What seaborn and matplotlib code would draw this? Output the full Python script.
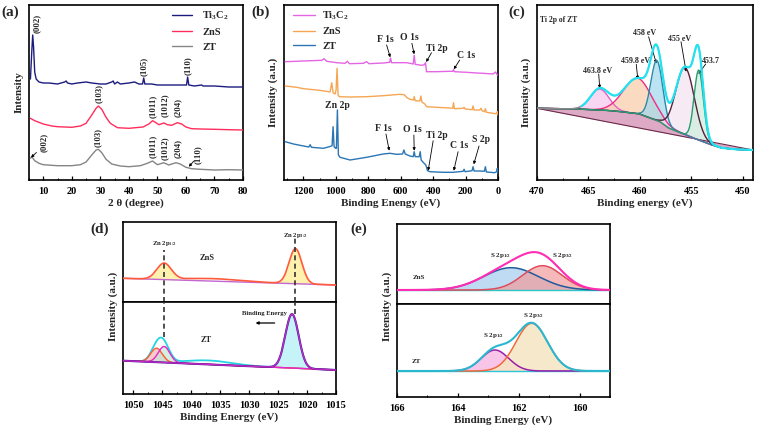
import numpy as np
import matplotlib
matplotlib.use("Agg")
import matplotlib.pyplot as plt
import seaborn as sns

# ---------------- data ----------------
# (a) XRD patterns: 2theta (degree) and stacked intensity (a.u.)
a_ti_x = [5.5, 6.0, 6.3, 6.6, 7.0, 7.5, 8.5, 10, 12, 15, 17.5, 18, 18.5, 20, 22, 25, 27, 30, 32, 34,
          34.5, 35, 36, 37, 40, 42, 43.5, 44.8, 45.2, 45.6, 48, 50, 55, 58, 60.2, 60.6, 61.0, 63, 65.5, 66,
          70, 75, 80]
a_ti_y = [101, 130, 145, 133, 108, 101, 98, 97, 97, 96, 98, 99, 97, 96, 97, 98, 97, 96, 96, 98,
          99, 96, 98, 96, 97, 98, 96, 96, 102, 96, 96, 95, 95, 95, 95, 103, 95, 94, 95, 94,
          94, 93, 93]
a_zns_x = [5.5, 7, 10, 13, 15, 20, 23, 25, 27, 28.5, 29.3, 30.5, 32, 33.5, 36, 40, 45, 47, 48.3, 49.5,
           50.5, 52.3, 53.5, 55, 57, 58.5, 60, 62, 65, 70, 75, 80]
a_zns_y = [61.7, 59.3, 56, 54, 53.3, 52.7, 54, 56.7, 65, 71.7, 74, 70.7, 62.7, 56.7, 52.3, 51.7, 53, 56, 59.3, 57.3,
           55.3, 57, 55.3, 54.7, 57.3, 56, 53, 51.3, 51, 50.7, 50.3, 50]
a_zt_x = [5.5, 6.0, 7, 8.5, 10, 15, 20, 23, 25, 27, 28.5, 29.3, 30.5, 32, 34, 37, 40, 44, 46.5, 48.3,
          50, 52.2, 54, 56.5, 58, 60, 62, 65, 70, 75, 80]
a_zt_y = [21.7, 23.3, 19.3, 16.7, 15.3, 14.3, 14.3, 15.3, 18, 25, 30, 30.7, 27.3, 20.7, 16, 14, 13.3, 14.3, 16.7, 19,
          15.3, 17.3, 15, 17.3, 16, 12.7, 11.3, 10.7, 10, 10.3, 10]
a_names = ["Ti$_3$C$_2$", "ZnS", "ZT"]

# (b) XPS survey: binding energy (eV) and stacked intensity (a.u.)
b_ti_x = [1312.6, 1199.8, 1087.0, 1072.7, 1056.3, 994.7, 943.5, 929.1, 916.8, 830.7, 810.1, 795.8, 707.6,
          668.6, 662.5, 656.3, 564.0, 543.5, 523.0, 516.9, 510.7, 471.7, 453.3, 447.1, 441.0, 379.4, 297.4,
          278.9, 274.8, 268.7, 194.8, 133.3, 92.3, 30.8, 14.4, 6.2, 0]
b_ti_y = [118.3, 119.0, 119.7, 121.3, 118.7, 117.3, 116.7, 118.7, 116.3, 116.7, 118.3, 116.3, 117.0,
          117.7, 122.0, 117.3, 117.3, 116.7, 116.0, 124.7, 115.7, 114.7, 115.3, 117.3, 108.3, 108.3, 108.7,
          108.7, 110.3, 108.3, 107.7, 107.0, 106.7, 106.0, 108.0, 105.3, 105.0]
b_zns_x = [1312.6, 1240.9, 1199.8, 1117.8, 1056.3, 1035.8, 1025.5, 1017.3, 1005.0, 998.8, 992.7, 986.5,
           978.3, 912.7, 810.1, 707.6, 605.0, 580.4, 574.3, 564.0, 543.5, 520.9, 516.9, 510.7, 482.0, 475.8,
           469.7, 451.2, 441.0, 379.4, 297.4, 278.9, 274.8, 268.7, 215.4, 209.2, 203.0, 160.0, 153.8, 147.7,
           112.8, 104.6, 98.4, 84.1, 77.9, 71.8, 30.8, 10.3, 4.1, 0]
b_zns_y = [94.0, 92.7, 91.3, 90.0, 88.7, 88.0, 97.3, 87.3, 86.0, 90.0, 111.7, 85.0,
           83.3, 83.0, 83.3, 84.3, 85.7, 85.3, 84.7, 82.7, 80.7, 80.0, 83.3, 79.3, 79.0, 84.0,
           78.0, 76.0, 73.3, 72.7, 72.0, 71.7, 77.3, 71.3, 71.7, 72.7, 71.0, 70.3, 74.0, 70.0,
           70.0, 71.7, 69.3, 68.3, 71.3, 67.7, 66.7, 66.3, 68.3, 65.0]
b_zt_x = [1312.6, 1261.4, 1199.8, 1167.0, 1158.8, 1150.6, 1076.8, 1039.9, 1023.4, 1017.3, 1011.1, 1000.9,
          996.8, 990.6, 984.5, 974.2, 912.7, 810.1, 707.6, 666.6, 625.6, 588.6, 580.4, 572.2, 543.5, 523.0,
          516.9, 510.7, 486.1, 479.9, 473.8, 461.5, 445.1, 434.8, 420.5, 338.4, 276.9, 215.4, 209.2, 203.0,
          160.0, 153.8, 147.7, 112.8, 84.1, 77.9, 71.8, 20.5, 8.2, 4.1, 0]
b_zt_y = [38.3, 36.0, 34.0, 33.0, 35.3, 32.7, 31.7, 33.3, 34.3, 53.3, 33.3, 31.7,
          31.7, 70.0, 25.0, 22.7, 20.0, 22.7, 26.0, 26.7, 25.7, 26.0, 30.0, 26.0, 24.0, 23.3,
          28.3, 23.3, 23.3, 28.3, 20.0, 17.7, 15.0, 9.3, 8.3, 7.7, 7.7, 8.7, 10.7, 8.3,
          9.3, 13.3, 9.0, 9.0, 8.7, 13.3, 8.0, 7.3, 8.3, 11.7, 6.7]

# (c) Ti 2p of ZT: fitted peaks (center eV, height, sigma) and backgrounds
c_centers = [463.9, 460.2, 458.35, 455.6, 454.27]
c_heights = [21, 35.4, 60, 67, 70]
c_sigmas = [0.9, 1.4, 0.58, 0.9, 0.45]
c_line_x = [449, 470]
c_line_y = [30, 71.7]
c_shirley_x = [449, 450.5, 452, 453, 454.3, 455.5, 456.5, 457.2, 458, 460, 461.5, 463, 466, 470]
c_shirley_y = [30, 30.5, 32, 35, 40, 45, 49, 52, 58, 66, 68, 69.5, 71, 71.7]
c_labels = ["463.8 eV", "459.8 eV", "458 eV", "455 eV", "453.7"]

# (d) Zn 2p: ZnS (top) and ZT (bottom) fitted peaks
d_zns_centers = [1044.7, 1022.0, 1036.0]
d_zns_heights = [16, 35, 2.5]
d_zns_sigmas = [1.25, 1.1, 5.0]
d_zns_base = [17.0, 23.7]          # at 1015 and 1051.8 eV
d_zt_centers = [1046.0, 1044.7, 1022.6, 1037.0]
d_zt_heights = [14, 16, 54, 4]
d_zt_sigmas = [1.0, 1.0, 1.15, 4.0]
d_zt_base = [24.0, 33.3]

# (e) S 2p: ZnS (top) and ZT (bottom) fitted peaks
e_zns_centers = [162.25, 161.22]
e_zns_heights = [22.3, 24.3]
e_zns_sigmas = [0.9, 0.65]
e_zns_base = 14.0
e_zt_centers = [162.78, 161.57]
e_zt_heights = [21, 47.7]
e_zt_sigmas = [0.45, 0.52]
e_zt_base = 26.0

# ---------------- style ----------------
sns.set_theme(style="ticks")
plt.rcParams.update({
    "font.family": ["Liberation Serif", "DejaVu Serif"],
    "font.weight": "bold",
    "axes.labelweight": "bold",
    "mathtext.fontset": "custom",
    "mathtext.rm": "Liberation Serif:bold",
    "mathtext.it": "Liberation Serif:bold:italic",
    "mathtext.bf": "Liberation Serif:bold",
    "mathtext.default": "rm",
    "xtick.direction": "in",
    "ytick.direction": "in",
    "axes.linewidth": 1.2,
    "axes.edgecolor": "black",
    "xtick.color": "black",
    "xtick.labelsize": 7.5,
    "axes.labelsize": 8,
})

W, H = 760, 428
fig = plt.figure(figsize=(W / 100, H / 100), dpi=100)


def rect(l, t, r, b):
    return [l / W, 1 - b / H, (r - l) / W, (b - t) / H]


def peak(x, c, h, s):
    return h * np.exp(-0.5 * ((x - c) / s) ** 2)


def line(ax, x, y, color, lw=1.0, z=3, **kw):
    sns.lineplot(x=np.asarray(x, float), y=np.asarray(y, float), ax=ax, color=color,
                 linewidth=lw, estimator=None, sort=False, legend=False, zorder=z, **kw)
    return ax.lines[-1]


def style_ax(ax, xlim, ylim, major, minor, labels=True):
    ax.set_xlim(*xlim)
    ax.set_ylim(*ylim)
    ax.set_yticks([])
    ax.set_xticks(major)
    ax.set_xticks(minor, minor=True)
    ax.tick_params(axis="x", which="major", length=3, width=0.9, pad=5)
    ax.tick_params(axis="x", which="minor", length=1.8, width=0.7)
    if not labels:
        ax.tick_params(axis="x", which="both", bottom=False, labelbottom=False)
    ax.set_xlabel("")
    ax.set_ylabel("")
    for s in ax.spines.values():
        s.set_visible(True)
        s.set_linewidth(1.2)


def arrow(ax, tip, start, lw=0.6):
    ax.annotate("", xy=tip, xytext=start,
                arrowprops=dict(arrowstyle="-|>", lw=lw, color="black", mutation_scale=4,
                                shrinkA=0, shrinkB=0))


# ---------------- (a) ----------------
axA = fig.add_axes(rect(29, 5, 243, 180))
h1 = line(axA, a_ti_x, a_ti_y, "#1c1c7e", 1.0)
h2 = line(axA, a_zns_x, a_zns_y, "#ff2d5c", 1.0)
h3 = line(axA, a_zt_x, a_zt_y, "#858585", 1.0)
style_ax(axA, (5.4, 80), (0, 175), range(10, 81, 10), range(5, 81, 5))
axA.set_xlabel("2 θ (degree)", labelpad=2)
axA.set_ylabel("Intensity", labelpad=4)
axA.legend([h1, h2, h3], a_names, loc="upper left", bbox_to_anchor=(0.65, 1.0), frameon=False,
           fontsize=7.5, handlelength=1.9, handletextpad=1.0, labelspacing=0.55, borderpad=0.4,
           borderaxespad=0)
fs = 6.3
for x, y, t in [(7.8, 147, "(002)"), (45.2, 104, "(105)"), (60.6, 105, "(110)"),
                (29.4, 76.5, "(103)"), (48.4, 62, "(1011)"), (52.6, 63, "(1012)"), (57.2, 63, "(204)"),
                (10.2, 27.5, "(002)"), (29.2, 33, "(103)"), (48.4, 22, "(1011)"), (52.6, 19.5, "(1012)"),
                (57.2, 22, "(204)"), (64.2, 15.5, "(110)")]:
    axA.text(x, y, t, rotation=90, ha="center", va="bottom", fontsize=fs)
arrow(axA, (5.7, 22.5), (7.6, 27.5))
arrow(axA, (61.0, 13.3), (62.8, 19.0))

# ---------------- (b) ----------------
axB = fig.add_axes(rect(284, 5, 498, 180))
g1 = line(axB, b_ti_x, b_ti_y, "#e466e4", 1.0)
g2 = line(axB, b_zns_x, b_zns_y, "#f6a653", 1.0)
g3 = line(axB, b_zt_x, b_zt_y, "#2a76b4", 1.0)
style_ax(axB, (1320, 0), (0, 175), range(1200, -1, -200), range(1300, -1, -100))
axB.set_xlabel("Binding Enengy (eV)", labelpad=2)
axB.set_ylabel("Intensity (a.u.)", labelpad=4)
axB.legend([g1, g2, g3], a_names, loc="upper left", bbox_to_anchor=(0.022, 1.0), frameon=False,
           fontsize=7.5, handlelength=2.1, handletextpad=0.7, labelspacing=0.5, borderpad=0.4,
           borderaxespad=0)
fb = 7
for x, y, t in [(697, 140.7, "F 1s"), (547.6, 142.3, "O 1s"), (375, 131.7, "Ti 2p"), (194.8, 124, "C 1s"),
                (990.6, 74, "Zn 2p"), (707.6, 51.7, "F 1s"), (527.1, 50, "O 1s"), (379.4, 44, "Ti 2p"),
                (240, 34, "C 1s"), (102.6, 40.7, "S 2p")]:
    axB.text(x, y, t, ha="center", va="center", fontsize=fb)
arrow(axB, (664.5, 122.7), (687.1, 135))
arrow(axB, (516.9, 125.7), (531.2, 136.7))
arrow(axB, (443.0, 118), (410.2, 127.3))
arrow(axB, (272.8, 110.7), (235.9, 120))
arrow(axB, (670.7, 29.3), (691.2, 46))
arrow(axB, (516.9, 29.3), (518.9, 45))
arrow(axB, (430.7, 9.3), (399.9, 39.3))
arrow(axB, (272.8, 9.3), (246.1, 28.3))
arrow(axB, (149.7, 15.7), (116.9, 34))

# ---------------- (c) ----------------
axC = fig.add_axes(rect(537, 5, 753, 180))
xc = np.linspace(449, 470, 600)
bg_line = np.interp(xc, c_line_x, c_line_y)
shir = np.interp(xc, c_shirley_x, c_shirley_y)
axC.fill_between(xc, bg_line, shir, color="#d79abb", alpha=0.85, lw=0, zorder=1)
c_fill = ["#f7c6ef", "#f8cda9", "#9fd8ec", "#f3e3f1", "#cdeedd"]
c_edge = ["#e063c8", "#f02c84", "#2a8aa8", "#5a1f3a", "#2a9a70"]
comps = []
for c, h, s, fc, ec in zip(c_centers, c_heights, c_sigmas, c_fill, c_edge):
    g = peak(xc, c, h, s)
    comps.append(g)
    axC.fill_between(xc, shir, shir + g, color=fc, alpha=0.7, lw=0, zorder=2)
for g, ec in zip(comps, c_edge):
    line(axC, xc, shir + g, ec, 1.0, z=4)
line(axC, xc, bg_line, "#6b2a4a", 0.8, z=3)
line(axC, xc, shir, "#e3b04a", 0.8, z=3)
env = shir + np.sum(comps, axis=0)
line(axC, xc, env, "#8a8a8a", 0.9, z=5)
mask = xc <= 465.7
line(axC, xc[mask], env[mask], "#22e2f2", 1.6, z=5)
style_ax(axC, (470, 449), (0, 175), range(470, 449, -5), np.arange(470, 449, -2.5))
axC.set_xlabel("Binding energy (eV)", labelpad=2)
axC.set_ylabel("Intensity (a.u.)", labelpad=4)
axC.text(469.7, 160, "Ti 2p of ZT", ha="left", va="center", fontsize=5.5)
fc_ = 5.8
axC.text(464.1, 109.3, c_labels[0], ha="center", va="center", fontsize=fc_)
arrow(axC, (463.9, 91.7), (464.0, 106))
axC.text(460.4, 119, c_labels[1], ha="center", va="center", fontsize=fc_)
arrow(axC, (460.2, 100.7), (460.35, 115.7))
axC.text(459.5, 146.7, c_labels[2], ha="center", va="center", fontsize=fc_)
arrow(axC, (458.4, 116.7), (459.15, 143.3))
axC.text(456.15, 141, c_labels[3], ha="center", va="center", fontsize=fc_)
arrow(axC, (455.5, 108.3), (456.0, 138.3))
axC.text(453.1, 119, c_labels[4], ha="center", va="center", fontsize=fc_)
arrow(axC, (454.3, 106), (453.6, 116))

# ---------------- (d) ----------------
xd = np.linspace(1015, 1051.8, 700)
axD1 = fig.add_axes(rect(123, 222, 336, 302))
axD2 = fig.add_axes(rect(123, 302, 336, 394))
bl1 = np.interp(xd, [1015, 1051.8], d_zns_base)
gz = [peak(xd, c, h, s) for c, h, s in zip(d_zns_centers, d_zns_heights, d_zns_sigmas)]
for g in gz[:2]:
    axD1.fill_between(xd, bl1, bl1 + g, color="#fff1a6", alpha=0.9, lw=0, zorder=1)
line(axD1, xd, bl1, "#c266d2", 1.0, z=3)
line(axD1, xd, bl1 + np.sum(gz, axis=0), "#ff5a3a", 1.2, z=4)
style_ax(axD1, (1051.8, 1015), (0, 80), [], [], labels=False)
axD1.text(1044.7, 58, "Zn 2p$_{1/2}$", ha="center", va="center", fontsize=4.8)
axD1.text(1022.0, 67, "Zn 2p$_{3/2}$", ha="center", va="center", fontsize=4.8)
axD1.text(1037.2, 44, "ZnS", ha="center", va="center", fontsize=6)
axD1.vlines([1044.8], 0, 52, colors="#333333", linestyles=(0, (3, 2)), lw=1.2, zorder=6)
axD1.vlines([1022.0], 0, 64, colors="#333333", linestyles=(0, (3, 2)), lw=1.2, zorder=6)

bl2 = np.interp(xd, [1015, 1051.8], d_zt_base)
gt = [peak(xd, c, h, s) for c, h, s in zip(d_zt_centers, d_zt_heights, d_zt_sigmas)]
axD2.fill_between(xd, bl2, bl2 + gt[0], color="#f6b4b4", alpha=0.7, lw=0, zorder=1)
axD2.fill_between(xd, bl2, bl2 + gt[1], color="#bfe9d2", alpha=0.7, lw=0, zorder=1)
axD2.fill_between(xd, bl2, bl2 + gt[2], color="#bff2f8", alpha=0.9, lw=0, zorder=1)
line(axD2, xd, bl2, "#6a90c0", 1.0, z=3)
line(axD2, xd, bl2 + np.sum(gt, axis=0), "#26d3e3", 1.3, z=4)
line(axD2, xd, bl2 + gt[0], "#ff5a30", 1.0, z=5)
line(axD2, xd, bl2 + gt[1], "#e626c8", 1.0, z=5)
line(axD2, xd, bl2 + gt[2], "#6a1fa0", 1.5, z=5)
line(axD2, xd, bl2 + gt[2], "#e02ad0", 0.6, z=6)
style_ax(axD2, (1051.8, 1015), (0, 92), range(1050, 1014, -5), np.arange(1050, 1014, -2.5))
axD2.set_xlabel("Binding Energy (eV)", labelpad=2)
axD2.text(1037.4, 54, "ZT", ha="center", va="center", fontsize=6)
axD2.text(1027.4, 80, "Binding Energy", ha="center", va="center", fontsize=4.8)
arrow(axD2, (1028.9, 71), (1025.6, 71), lw=0.9)
axD2.vlines([1044.8], 57, 92, colors="#333333", linestyles=(0, (3, 2)), lw=1.2, zorder=6)
axD2.vlines([1022.0], 80, 92, colors="#333333", linestyles=(0, (3, 2)), lw=1.2, zorder=6)
fig.text(113 / W, 1 - 306 / H, "Intensity (a.u.)", rotation=90, ha="center", va="center",
         fontsize=8, fontweight="bold")

# ---------------- (e) ----------------
xe = np.linspace(159, 166, 500)
axE1 = fig.add_axes(rect(397, 224, 610, 304))
axE2 = fig.add_axes(rect(397, 304, 610, 397))
be1 = np.full_like(xe, e_zns_base)
ge1 = [peak(xe, c, h, s) for c, h, s in zip(e_zns_centers, e_zns_heights, e_zns_sigmas)]
axE1.fill_between(xe, be1, be1 + ge1[0], color="#a9d0f0", alpha=0.75, lw=0, zorder=1)
axE1.fill_between(xe, be1, be1 + ge1[1], color="#f29c9c", alpha=0.7, lw=0, zorder=1)
line(axE1, xe, be1, "#2ec4c8", 1.0, z=3)
line(axE1, xe, be1 + ge1[0], "#1f5a9a", 1.1, z=4)
line(axE1, xe, be1 + ge1[1], "#e04a5a", 1.1, z=4)
line(axE1, xe, be1 + np.sum(ge1, axis=0), "#ff2cb4", 1.5, z=5)
style_ax(axE1, (166, 159), (0, 80), [], [], labels=False)
axE1.text(162.59, 48.3, "S 2p$_{1/2}$", ha="center", va="center", fontsize=5)
axE1.text(160.57, 48, "S 2p$_{3/2}$", ha="center", va="center", fontsize=5)
axE1.text(165.27, 26.3, "ZnS", ha="center", va="center", fontsize=5)

be2 = np.full_like(xe, e_zt_base)
ge2 = [peak(xe, c, h, s) for c, h, s in zip(e_zt_centers, e_zt_heights, e_zt_sigmas)]
axE2.fill_between(xe, be2, be2 + ge2[0], color="#f7bbe6", alpha=0.85, lw=0, zorder=1)
axE2.fill_between(xe, be2, be2 + ge2[1], color="#f5e4c2", alpha=0.85, lw=0, zorder=1)
line(axE2, xe, be2, "#2ec4d8", 1.0, z=3)
line(axE2, xe, be2 + ge2[0], "#9a1fa8", 1.1, z=4)
line(axE2, xe, be2 + ge2[1], "#f06a3a", 1.1, z=4)
line(axE2, xe, be2 + np.sum(ge2, axis=0), "#2ab8d0", 1.5, z=5)
style_ax(axE2, (166, 159), (0, 93), range(166, 159, -2), range(166, 158, -1))
axE2.set_xlabel("Binding Energy (eV)", labelpad=2)
axE2.text(162.81, 62, "S 2p$_{1/2}$", ha="center", va="center", fontsize=5)
axE2.text(161.5, 82, "S 2p$_{3/2}$", ha="center", va="center", fontsize=5)
axE2.text(165.38, 35.3, "ZT", ha="center", va="center", fontsize=5)
fig.text(387 / W, 1 - 306 / H, "Intensity (a.u.)", rotation=90, ha="center", va="center",
         fontsize=8, fontweight="bold")

# ---------------- panel letters ----------------
for px, py, t in [(1, 12, "(a)"), (251, 12, "(b)"), (508, 12, "(c)"), (90, 229, "(d)"), (350, 229, "(e)")]:
    fig.text(px / W, 1 - py / H, t, ha="left", va="center", fontsize=11, fontweight="bold")

fig.savefig("out.png", dpi=100)
